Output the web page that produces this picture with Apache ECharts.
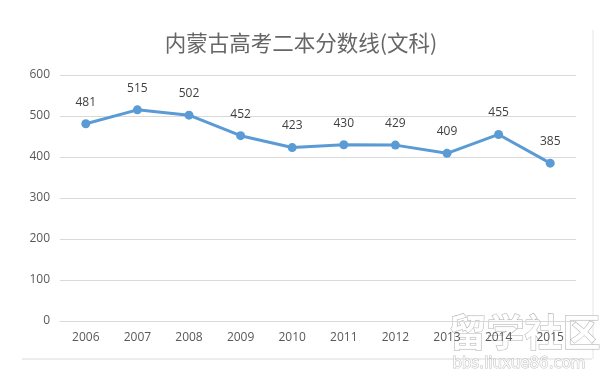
<!DOCTYPE html>
<html><head><meta charset="utf-8">
<script src="https://cdn.jsdelivr.net/npm/echarts@6/dist/echarts.min.js"></script>
<style>html,body{margin:0;padding:0;background:#fff}#c{width:602px;height:376px}</style>
</head><body><div id="c"></div>
<script>
const titleText = '内蒙古高考二本分数线(文科)';
const years = ['2006','2007','2008','2009','2010','2011','2012','2013','2014','2015'];
const scores = [481, 515, 502, 452, 423, 430, 429, 409, 455, 385];
const yTicks = [0, 100, 200, 300, 400, 500, 600];

const chart = echarts.init(document.getElementById('c'));
chart.setOption({
  backgroundColor: '#fff',
  animation: false,
  title: {
    text: titleText, left: 'center', top: 27,
    textStyle: { fontFamily: 'Noto Sans CJK SC', fontSize: 21.5, fontWeight: 'normal', color: '#666' }
  },
  grid: { left: 60, right: 26, top: 75, bottom: 55 },
  xAxis: {
    type: 'category', data: years, boundaryGap: true,
    axisLine: { show: true, lineStyle: { color: '#d9d9d9' } },
    axisTick: { show: false },
    axisLabel: { color: '#595959', fontSize: 12, fontFamily: 'Open Sans', margin: 11 }
  },
  yAxis: {
    type: 'value', min: yTicks[0], max: yTicks[yTicks.length-1], interval: 100,
    axisLine: { show: false }, axisTick: { show: false },
    splitLine: { lineStyle: { color: '#d9d9d9' } },
    axisLabel: { color: '#595959', fontSize: 12, fontFamily: 'Open Sans', margin: 10 }
  },
  series: [{
    type: 'line', data: scores,
    symbol: 'circle', symbolSize: 9,
    lineStyle: { color: '#5B9BD5', width: 3 },
    itemStyle: { color: '#5B9BD5' },
    label: { show: true, position: 'top', distance: 11, color: '#404040', fontSize: 12, fontFamily: 'Open Sans' }
  }],
  graphic: [
    { type: 'line', shape: { x1: 22, y1: 359, x2: 592, y2: 359 }, style: { stroke: '#d9d9d9', lineWidth: 1 } },
    { type: 'line', shape: { x1: 593, y1: 30, x2: 593, y2: 359 }, style: { stroke: '#e6e6e6', lineWidth: 1 } },
    { type: 'text', left: 448, top: 312, style: { text: '留学社区', font: 'bold 38px "Noto Sans CJK SC"', fill: 'rgba(255,255,255,0.9)', stroke: 'rgba(120,120,120,0.6)', lineWidth: 1 } },
    { type: 'text', left: 452, top: 356, style: { text: 'bbs.liuxue86.com', font: '15px "DejaVu Sans"', fill: 'rgba(255,255,255,0.9)', stroke: 'rgba(150,150,150,0.6)', lineWidth: 1 } }
  ]
});
</script></body></html>
